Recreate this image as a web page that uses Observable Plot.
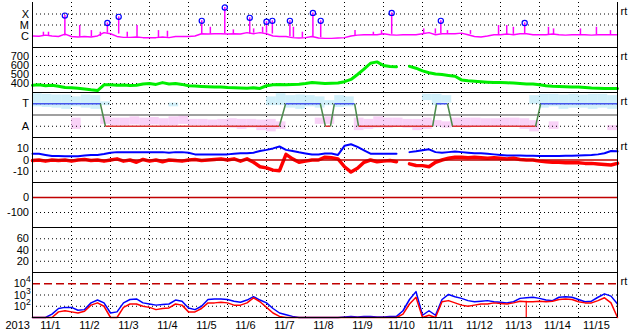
<!DOCTYPE html>
<html><head><meta charset="utf-8">
<script src="https://cdn.jsdelivr.net/npm/d3@7"></script>
<script src="https://cdn.jsdelivr.net/npm/@observablehq/plot@0.6"></script>
<style>
html,body{margin:0;padding:0;background:#fff;}
#chart{position:relative;width:633px;height:334px;overflow:hidden;}
</style></head><body><div id="chart"></div>
<script>
// ---------- DATA ----------
const yearLabel = "2013";
const dayLabels = ["11/1","11/2","11/3","11/4","11/5","11/6","11/7","11/8","11/9","11/10","11/11","11/12","11/13","11/14","11/15"];
const SAMPLES_PER_DAY = 6; // 4-hour samples

// GOES X-ray background, in units of 1e-6 W/m2 (C1 = 1)
const xrayBg = [
 1.0,0.95,1.2,1.0,0.9,1.5,
 0.9,0.8,0.9,0.8,1.0,2.0,
 1.6,0.9,0.75,0.75,0.8,0.7,
 0.7,0.7,0.8,0.7,0.9,0.9,
 0.9,1.0,1.6,1.5,1.6,1.6,
 1.5,1.6,1.5,2.0,1.6,2.0,
 1.6,1.0,0.9,0.9,0.7,0.65,
 0.7,0.9,0.65,0.6,0.6,0.65,
 0.7,1.0,1.2,1.3,1.3,1.3,
 1.6,1.3,1.2,1.3,1.3,1.3,
 1.6,2.0,1.3,1.6,1.6,1.6,
 1.8,1.3,0.9,0.8,1.0,1.3,
 1.3,1.5,1.3,1.6,1.6,1.3,
 1.3,1.3,1.5,1.3,1.2,1.3,
 1.3,1.3,1.2,1.3,1.3,1.3,1.3];
// small spikes: [day, peak, base] (1e-6 W/m2)
const xraySpikes = [[0.28,2.2,1.0],[0.41,2.2,1.0],[1.21,8.9,0.85],[1.51,3.1,0.85],[1.74,2.2,0.9],[2.43,2.2,0.75],[2.68,8.9,0.75],[3.23,3.1,0.7],[3.46,2.7,0.75],[4.56,6.2,1.5],[5.15,3.6,1.6],[5.67,4.4,1.8],[5.90,6.2,1.8],[6.69,6.2,0.7],[6.92,2.2,0.65],[8.27,3.1,1.1],[8.74,2.2,1.3],[8.95,3.1,1.4],[10.03,4.4,1.6],[10.33,4.4,1.5],[10.64,3.1,1.6],[11.23,3.1,1.4],[11.95,8.9,1.3],[12.16,8.9,1.4],[12.33,6.2,1.4],[13.23,6.2,1.3],[13.36,4.4,1.3],[14.05,4.4,1.3],[14.46,6.2,1.3],[14.82,3.1,1.3]];
// marked flares: [day, peak, base]
const xrayFlares = [[0.83,72,1.0],[1.92,15.4,1.8],[2.21,55,1.5],[4.34,24,1.5],[4.93,390,1.6],[5.57,45,1.5],[6.00,20,1.8],[6.15,24,1.5],[6.60,24,0.9],[7.19,126,0.8],[7.39,24,0.7],[9.21,126,1.4],[10.47,24,1.6],[12.62,15.4,1.5]];
const xrayClasses = ["X","M","C"];
const xrayClassFlux = [1e-4,1e-5,1e-6];

// Solar wind speed (km/s)
const speed = [
 380,385,375,380,370,355,
 352,348,340,330,322,385,
 385,380,382,378,380,395,
 400,390,410,395,400,390,
 375,372,368,365,362,360,
 355,352,350,348,352,345,
 375,385,388,385,390,392,
 400,410,405,400,402,405,
 420,445,500,560,625,640,
 600,590,585,null,590,570,
 540,520,505,500,490,480,
 440,430,425,420,415,410,
 410,408,405,400,395,395,
 385,375,370,368,365,360,
 360,355,350,348,345,345,345];
const speedTicks = [700,600,500,400];

// IMF sector: [day, "T"/"A"]
const sectorSteps = [[0,"T"],[1.74,"T"],[1.87,"A"],[6.33,"A"],[6.49,"T"],[7.38,"T"],[7.51,"A"],[7.64,"A"],[7.74,"T"],[8.26,"T"],[8.36,"A"],[10.26,"A"],[10.36,"T"],[10.64,"T"],[10.77,"A"],[12.9,"A"],[13.03,"T"],[15,"T"]];
const sectorLabels = ["T","A"];
const sectorPhi = [315,135];
// phi angle spread per 6-hour bin (degrees)
const towardLo = [290,285,280,270,290,280,270,300,null,null,null,null,null,null,290,null,null,null,null,null,null,null,null,null,300,300,280,270,290,280,300,285,290,null,null,null,null,null,null,null,340,300,320,null,null,null,null,null,null,null,null,310,280,290,270,280,280,270,280,270];
const towardHi = [395,390,385,385,370,385,380,330,null,null,null,null,null,null,320,null,null,null,null,null,null,null,null,null,370,395,380,385,380,370,340,380,370,null,null,null,null,null,null,null,390,390,380,null,null,null,null,null,null,null,null,380,390,390,385,390,385,390,390,380];
const awayLo = [null,null,null,null,110,null,null,150,140,140,145,140,145,140,140,150,140,140,130,135,120,110,120,100,90,110,null,null,null,150,150,null,null,100,110,120,120,130,120,100,110,130,120,130,120,130,130,125,130,130,110,90,null,110,null,null,null,null,null,100];
const awayHi = [null,null,null,null,200,null,null,210,200,200,210,200,205,195,210,220,190,190,185,190,195,190,190,185,190,170,null,null,null,200,210,null,null,200,190,210,200,200,190,190,200,180,170,200,200,200,195,195,200,200,195,180,null,170,null,null,null,null,null,140];

// IMF Bt and Bz (nT)
const bt = [
 5.5,5.5,4.5,3.5,3.5,3.4,
 3.4,3.4,4,4.5,4.5,5.3,
 6.5,7,7,7,7,7,
 7,7,7,6.5,7,7,
 6.5,5,5,5,5,5,
 5,5.5,6,6,6.5,8,
 9,10.3,12,9,8,6.8,
 5.8,4.9,4.9,5.8,5.8,4.5,
 12.6,14,11.6,8.6,5.6,5.6,
 5.6,5.6,5.6,null,7,7.7,
 8.6,9.5,7,6.4,7,7.6,
 7,6.5,6,6,5.5,5,
 4.5,4,4,4,3.8,3.8,
 3.6,3.6,3.5,3.5,3.8,3.8,
 4,4.3,4.5,5,6,8,7.7];
const bz = [
 -0.5,0,-1,0,-0.5,0,
 -1,0,0.5,-0.5,0,-1,
 0,1,-1,0,-2,0.5,
 -1,0,-1.5,0,-0.5,-1,
 0,0.5,-0.5,0,0.5,1,
 0,1,-1,1,-2,-6,
 -7,-9,-9.5,5,1,-2,
 -1,0,0,2.5,2,1,
 -6,-10.7,-7.4,-2,0,-1.5,
 -1,-0.4,-1.5,null,-3.4,-4.9,
 -5,-6,-2,0,1.5,2.5,
 2.5,2,2.5,2,1.5,2,
 1.5,1,1.5,0.5,0,0,
 -1,-1.5,-2,-2,-2.5,-2.5,
 -2.5,-3,-3,-3.5,-4,-4.5,-3];
const bTicks = [10,0,-10];
const dstTicks = [0,-100];
const kTicks = [60,40,20];

// Electron flux, log10 (blue and red channels)
const eBlue = [
 1.0,1.0,1.0,1.3,1.8,1.9,
 1.9,1.65,1.7,2.3,2.55,2.3,
 1.4,1.5,2.3,2.6,2.65,2.3,
 2.2,2.1,2.15,2.2,2.55,2.45,
 1.85,1.7,2.0,2.6,2.65,2.65,
 2.6,2.45,2.35,2.55,2.85,2.55,
 2.3,1.8,1.4,1.25,1.1,1.0,
 1.0,1.0,1.0,1.0,1.0,1.0,
 1.05,1.1,1.05,1.1,1.1,1.05,
 1.05,1.1,1.1,1.6,2.6,3.3,
 1.2,1.6,1.2,2.6,3.05,2.85,
 2.7,2.5,2.4,2.45,2.5,2.4,
 2.35,2.3,2.4,2.7,2.75,2.8,
 2.7,2.55,2.5,2.8,2.85,2.8,
 2.6,2.4,2.45,2.8,3.1,2.9,2.2];
const eRed = [
 1.0,1.0,1.0,1.0,1.5,1.6,
 1.5,1.4,1.55,2.1,2.3,2.0,
 1.0,1.0,1.9,2.2,2.2,2.0,
 1.9,1.7,1.8,1.85,2.2,2.1,
 1.5,1.5,1.8,2.3,2.3,2.35,
 2.3,2.1,2.1,2.3,2.75,2.4,
 1.9,1.4,1.1,1.0,1.0,1.0,
 1.0,1.0,1.0,1.0,1.0,1.0,
 1.0,1.0,1.0,1.0,1.0,1.0,
 1.0,1.0,1.0,1.3,2.2,2.8,
 1.0,1.2,1.0,2.4,2.5,2.3,
 2.1,2.0,2.1,2.2,2.2,2.3,
 2.25,2.2,2.3,2.45,2.4,2.4,
 2.45,2.4,2.45,2.6,2.65,2.6,
 2.4,2.3,2.3,2.5,2.75,2.3,1.0];
const eDrops = [[12.66,2.45]];
const eTickExps = [4,3,2];
const eAlertExp = 4;

// ---------- CHART ----------
const W = 633, ML = 32, MR = 16, PH = 45, TOP = 2;
const FONT = "'Liberation Sans', Arial, sans-serif";
const chart = document.getElementById("chart");
const series = arr => arr.map((v, i) => ({t: i / SAMPLES_PER_DAY, v}));
const boundaries = dayLabels.slice(1).map((_, i) => i + 1);
const grid = {stroke: "#000", strokeDasharray: "1,3", strokeWidth: 1};
const rt = () => Plot.text(["rt"], {frameAnchor: "top-right", dx: 3, dy: 9, textAnchor: "start", lineAnchor: "middle", fill: "#000"});

function panel(index, yOpts, marks, extra = {}) {
  const svg = Plot.plot({
    width: W, height: extra.height ?? PH,
    marginLeft: ML, marginRight: MR, marginTop: 0, marginBottom: extra.marginBottom ?? 0,
    style: `font-family:${FONT};font-size:11px;background:transparent;overflow:visible;color:#000;`,
    x: {domain: [0, 15], axis: null},
    y: {tickSize: 0, tickPadding: 3.5, label: null, ...yOpts},
    color: {type: "identity"},
    marks: [
      Plot.ruleX(boundaries, grid),
      ...marks,
      Plot.ruleX([0, 15], {stroke: "#000"}),
      Plot.ruleY([yOpts.domain[0]], {stroke: "#000"})
    ]
  });
  svg.style.position = "absolute";
  svg.style.left = "0px";
  svg.style.top = (TOP + PH * index) + "px";
  chart.appendChild(svg);
}

// 1. X-ray
panel(0, {type: "log", domain: [10 ** -7.05, 10 ** -2.95], ticks: xrayClassFlux, tickFormat: d => xrayClasses[xrayClassFlux.indexOf(d)]}, [
  Plot.ruleY(xrayClassFlux.slice(0, 2), grid),
  Plot.line(series(xrayBg), {x: "t", y: d => d.v * 1e-6, stroke: "#ff00ff", strokeWidth: 1.4}),
  Plot.ruleX(xraySpikes, {x: d => d[0], y1: d => d[2] * 1e-6, y2: d => d[1] * 1e-6, stroke: "#ff00ff", strokeWidth: 1.5}),
  Plot.ruleX(xrayFlares, {x: d => d[0], y1: d => d[2] * 1e-6, y2: d => d[1] * 1e-6, stroke: "#ff00ff", strokeWidth: 1.5}),
  Plot.dot(xrayFlares, {x: d => d[0], y: d => d[1] * 1e-6, r: 2.6, stroke: "#0000ff", strokeWidth: 1.2, fill: "none"}),
  rt()
]);

// 2. Solar wind speed
panel(1, {domain: [300, 800], ticks: speedTicks, tickFormat: d => String(d)}, [
  Plot.ruleY(speedTicks, grid),
  Plot.line(series(speed), {x: "t", y: "v", stroke: "#00ee00", strokeWidth: 3}),
  rt()
]);

// 3. Sector
const phiOf = Object.fromEntries(sectorLabels.map((s, i) => [s, sectorPhi[i]]));
const bands = (lo, hi) => lo.map((l, i) => ({t0: i / 4, t1: (i + 1) / 4, lo: l, hi: hi[i]})).filter(d => d.lo != null);
const sectorSegs = sectorSteps.slice(1).map((s, i) => ({t0: sectorSteps[i][0], s0: sectorSteps[i][1], t1: s[0], s1: s[1]}));
panel(2, {domain: [45, 405], ticks: sectorPhi, tickFormat: d => sectorLabels[sectorPhi.indexOf(d)]}, [
  Plot.rect(bands(towardLo, towardHi), {x1: "t0", x2: "t1", y1: "lo", y2: "hi", fill: "#b2e6f6", fillOpacity: 0.6}),
  Plot.rect(bands(awayLo, awayHi), {x1: "t0", x2: "t1", y1: "lo", y2: "hi", fill: "#f5b4f2", fillOpacity: 0.6}),
  Plot.ruleY(sectorPhi, grid),
  Plot.ruleY([(sectorPhi[0] + sectorPhi[1]) / 2], {stroke: "#808080", strokeWidth: 1.5}),
  Plot.link(sectorSegs, {x1: "t0", y1: d => phiOf[d.s0], x2: "t1", y2: d => phiOf[d.s1],
    stroke: d => d.s0 !== d.s1 ? "#4a8a4a" : d.s0 === "T" ? "#4455ee" : "#dd3333", strokeWidth: 1.5}),
  rt()
]);

// 4. Bt / Bz
panel(3, {domain: [-20, 20], ticks: bTicks, tickFormat: d => String(d)}, [
  Plot.ruleY([bTicks[0], bTicks[2]], grid),
  Plot.line(series(bt), {x: "t", y: "v", stroke: "#0000ff", strokeWidth: 2}),
  Plot.line(series(bz), {x: "t", y: "v", stroke: "#ff0000", strokeWidth: 3.5}),
  Plot.ruleY([0], {stroke: "#c00000", strokeWidth: 1.5}),
  rt()
]);

// 5. Dst (no data)
panel(4, {domain: [-200, 100], ticks: dstTicks, tickFormat: d => String(d)}, [
  Plot.ruleY([dstTicks[1]], grid),
  Plot.ruleY([0], {stroke: "#c00000", strokeWidth: 1.5})
]);

// 6. (no data)
panel(5, {domain: [0, 80], ticks: kTicks, tickFormat: d => String(d)}, [
  Plot.ruleY(kTicks, grid)
]);

// 7. Electrons + x labels
panel(6, {type: "log", domain: [10, 1e5], ticks: eTickExps.map(e => 10 ** e), tickFormat: () => "10", tickPadding: 6.5}, [
  Plot.ruleY(eTickExps.slice(1).map(e => 10 ** e), grid),
  Plot.ruleY([10 ** eAlertExp], {stroke: "#c00000", strokeWidth: 1.5, strokeDasharray: "8,4"}),
  Plot.text(eTickExps, {y: d => 10 ** d, text: d => String(d), frameAnchor: "left", dx: -6.5, dy: -4, textAnchor: "start", lineAnchor: "middle", fontSize: 8.5, fill: "#000"}),
  Plot.line(series(eBlue), {x: "t", y: d => 10 ** d.v, stroke: "#0000ff", strokeWidth: 1.5}),
  Plot.line(series(eRed), {x: "t", y: d => 10 ** d.v, stroke: "#ff0000", strokeWidth: 1.5}),
  Plot.ruleX(eDrops, {x: d => d[0], y1: 10, y2: d => 10 ** d[1], stroke: "#ff0000", strokeWidth: 1.2}),
  Plot.text(dayLabels, {x: (d, i) => i + 0.46, frameAnchor: "bottom", dy: 8, lineAnchor: "middle", fill: "#000"}),
  Plot.text([yearLabel], {frameAnchor: "bottom-left", dx: -27, dy: 8, textAnchor: "start", lineAnchor: "middle", fill: "#000"}),
  rt()
], {height: PH + 17, marginBottom: 17});
</script></body></html>
